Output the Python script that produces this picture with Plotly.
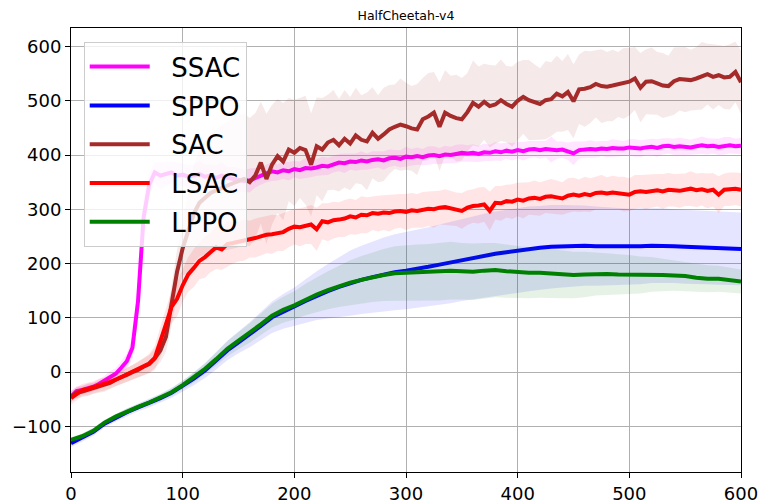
import numpy as np
import plotly.graph_objects as go

# ---------------- data ----------------
x_fast = list(range(0, 601, 5))    # SAC-type runs
x_slow = list(range(0, 601, 10))   # PPO-type runs

ssac_mean = [
    -45, -35, -33, -30, -27, -22, -15, -8, -3, 8,
    20, 45, 130, 285, 345, 368, 362, 365, 368, 362,
    364, 360, 362, 365, 360, 362, 358, 362, 358, 356,
    355, 352, 353, 358, 362, 366, 370, 368, 372, 370,
    374, 372, 376, 375, 377, 380, 379, 383, 386, 385,
    388, 387, 390, 388, 391, 392, 390, 394, 395, 393,
    397, 396, 398, 396, 399, 400, 398, 401, 400, 402,
    404, 403, 404, 402, 405, 404, 407, 405, 408, 406,
    409, 407, 410, 411, 409, 411, 410, 409, 410, 407,
    403, 409, 410, 411, 410, 412, 411, 413, 412, 412,
    414, 413, 412, 414, 415, 413, 416, 417, 415, 416,
    415, 414, 416, 418, 416, 417, 415, 417, 418, 416,
    417]
ssac_std = [
    10, 9, 8, 9, 8, 9, 8, 10, 10, 12,
    14, 20, 35, 35, 22, 18, 25, 22, 20, 24,
    20, 22, 20, 24, 22, 20, 22, 24, 20, 22,
    21, 20, 22, 18, 17, 16, 18, 15, 16, 17,
    15, 16, 18, 16, 15, 17, 16, 15, 16, 18,
    15, 16, 17, 15, 16, 15, 17, 16, 15, 16,
    18, 15, 16, 15, 17, 16, 15, 16, 15, 17,
    16, 15, 16, 15, 16, 15, 17, 16, 15, 16,
    15, 17, 16, 15, 16, 15, 24, 16, 15, 16,
    22, 16, 15, 16, 15, 14, 15, 16, 15, 14,
    15, 16, 15, 14, 15, 16, 15, 14, 15, 16,
    15, 14, 15, 16, 15, 14, 15, 16, 15, 14,
    15]

sac_mean = [
    -45, -38, -36, -33, -30, -27, -24, -20, -14, -10,
    -5, 0, 4, 10, 15, 25, 40, 65, 120, 185,
    228, 258, 292, 312, 322, 330, 335, 340, 343, 348,
    352, 356, 350, 362, 386, 356, 382, 398, 388, 410,
    404, 413, 409, 382, 416, 410, 423, 428, 418, 430,
    421, 436, 428, 425, 441, 430, 438, 447, 452, 456,
    453, 449, 447, 466, 471, 478, 452, 478, 472, 468,
    466, 479, 496, 489, 498, 490, 493, 501, 494, 489,
    500, 507, 501, 497, 494, 501, 503, 513, 508, 516,
    499, 521, 522, 525, 531, 527, 526, 528, 530, 532,
    535, 541, 524, 535, 536, 532, 528, 527, 536, 540,
    539, 538, 541, 546, 549, 544, 547, 543, 544, 553,
    534]
sac_std = [
    10, 10, 10, 11, 10, 11, 12, 11, 12, 12,
    12, 13, 14, 15, 16, 18, 22, 28, 35, 40,
    50, 75, 90, 100, 105, 110, 112, 115, 118, 120,
    122, 120, 118, 115, 112, 120, 110, 105, 108, 95,
    98, 92, 100, 95, 90, 95, 88, 92, 85, 90,
    86, 88, 82, 90, 84, 80, 86, 82, 78, 85,
    80, 78, 84, 76, 80, 75, 82, 78, 74, 80,
    76, 72, 78, 74, 70, 76, 72, 75, 70, 74,
    72, 68, 74, 70, 66, 72, 68, 70, 65, 70,
    68, 64, 70, 66, 62, 68, 64, 66, 60, 65,
    62, 58, 64, 60, 62, 58, 60, 56, 62, 58,
    60, 56, 58, 62, 56, 60, 55, 58, 60, 56,
    58]

lsac_mean = [
    -48, -40, -33, -31, -28, -24, -22, -18, -14, -9,
    -5, -1, 5, 10, 16, 26, 55, 88, 120, 135,
    160, 180, 192, 205, 212, 220, 230, 226, 236, 238,
    240, 243, 245, 247, 250, 253, 254, 256, 258, 264,
    268, 267, 270, 272, 263, 278, 276, 280, 281, 283,
    287, 285, 290, 289, 293, 292, 294, 293, 296, 297,
    295, 298, 297, 299, 301, 300, 303, 304, 302, 300,
    297, 303, 306, 307, 309, 297, 312, 311, 315, 314,
    318, 316, 320, 321, 319, 323, 324, 322, 320, 325,
    327, 325, 328, 326, 330, 331, 329, 331, 330, 328,
    327, 332, 333, 332, 334, 335, 333, 336, 335, 334,
    336, 338, 335, 337, 334, 336, 327, 336, 337, 338,
    336]
lsac_std = [
    12, 12, 11, 12, 11, 12, 12, 13, 12, 13,
    13, 14, 15, 16, 18, 22, 28, 30, 30, 32,
    30, 32, 35, 34, 38, 36, 40, 38, 42, 38,
    36, 38, 34, 36, 35, 34, 36, 33, 35, 34,
    33, 35, 34, 36, 40, 33, 35, 34, 32, 34,
    33, 32, 34, 33, 31, 33, 32, 34, 32, 31,
    33, 32, 31, 33, 32, 34, 31, 33, 32, 31,
    33, 32, 31, 33, 32, 36, 31, 32, 30, 32,
    31, 33, 30, 32, 31, 30, 32, 31, 30, 32,
    31, 30, 32, 31, 30, 32, 30, 31, 30, 32,
    30, 31, 30, 32, 31, 30, 32, 31, 30, 31,
    30, 32, 31, 30, 32, 31, 34, 30, 31, 30,
    31]

sppo_mean = [
    -131, -121, -110, -95, -84, -74, -65, -57, -48, -38,
    -26, -12, 3, 21, 40, 55, 69, 85, 101, 112,
    121, 131, 141, 149, 157, 164, 170, 175, 180, 184,
    187, 190, 194, 198, 202, 207, 211, 215, 218, 221,
    224, 227, 229, 231, 232, 233, 233, 232, 232, 231,
    231, 232, 233, 233, 232, 231, 230, 229, 228, 227,
    227]
sppo_std = [
    7, 7, 7, 7, 7, 7, 7, 8, 8, 9,
    10, 12, 14, 16, 18, 20, 23, 26, 29, 32,
    35, 40, 45, 50, 55, 60, 63, 66, 68, 70,
    71, 72, 73, 74, 75, 76, 77, 77, 78, 78,
    78, 78, 77, 77, 76, 75, 74, 73, 72, 71,
    70, 70, 69, 69, 68, 68, 68, 67, 67, 67,
    67]

lppo_mean = [
    -125, -118, -108, -93, -82, -72, -64, -56, -47, -37,
    -24, -10, 6, 24, 43, 58, 72, 88, 104, 115,
    123, 134, 143, 151, 158, 165, 170, 175, 179, 182,
    183, 183, 184, 185, 187, 186, 185, 187, 188, 186,
    184, 183, 183, 182, 180, 179, 180, 181, 181, 180,
    180, 179, 180, 179, 178, 177, 174, 172, 172, 170,
    167]
lppo_std = [
    5, 5, 5, 5, 5, 5, 5, 6, 6, 7,
    8, 9, 10, 12, 14, 16, 18, 20, 22, 24,
    26, 29, 32, 35, 38, 41, 44, 46, 48, 50,
    51, 52, 52, 53, 53, 52, 52, 51, 50, 49,
    48, 47, 46, 45, 44, 43, 42, 40, 38, 37,
    36, 34, 32, 30, 28, 27, 26, 25, 24, 23,
    22]

series = [
    ("SSAC", x_fast, ssac_mean, ssac_std, (255, 0, 255)),
    ("SPPO", x_slow, sppo_mean, sppo_std, (0, 0, 255)),
    ("SAC", x_fast, sac_mean, sac_std, (165, 42, 42)),
    ("LSAC", x_fast, lsac_mean, lsac_std, (255, 0, 0)),
    ("LPPO", x_slow, lppo_mean, lppo_std, (0, 128, 0)),
]

x_ticks = [0, 100, 200, 300, 400, 500, 600]
y_ticks = [-100, 0, 100, 200, 300, 400, 500, 600]

# ---------------- figure ----------------
fig = go.Figure()
for i, (name, xs, m, s, (r, g, b)) in enumerate(series):
    xs = np.asarray(xs, float)
    m = np.asarray(m, float)
    s = np.asarray(s, float)
    fig.add_trace(go.Scatter(
        x=np.concatenate([xs, xs[::-1]]),
        y=np.concatenate([m + s, (m - s)[::-1]]),
        fill="toself", fillcolor=f"rgba({r},{g},{b},0.1)",
        line=dict(width=0), mode="lines", hoverinfo="skip",
        showlegend=False, legendgroup=f"g{i}"))
    fig.add_trace(go.Scatter(
        x=xs, y=m, mode="lines", name="\u00a0\u00a0" + name,
        line=dict(color=f"rgb({r},{g},{b})", width=4),
        legendgroup=f"g{i}"))

font_family = "DejaVu Sans"
fig.update_layout(
    width=762, height=504,
    margin=dict(l=71, r=21, t=28, b=32, autoexpand=False),
    paper_bgcolor="white", plot_bgcolor="white",
    font=dict(family=font_family, color="black"),
    title=dict(text="HalfCheetah-v4", x=0.5328, xanchor="center",
               y=1 - 16 / 504, yanchor="middle", yref="container",
               font=dict(size=12.5, family=font_family, color="black")),
    legend=dict(x=0.019, y=0.968, xanchor="left", yanchor="top",
                bgcolor="rgba(255,255,255,0.8)", bordercolor="#cccccc",
                borderwidth=1, font=dict(size=26, family=font_family),
                itemwidth=60, tracegroupgap=2),
    showlegend=True,
)
axis_style = dict(showgrid=True, gridcolor="#b0b0b0", gridwidth=1,
                  zeroline=False, showline=True, linecolor="black",
                  linewidth=1, mirror=True, ticks="outside", ticklen=5,
                  tickcolor="black", automargin=False,
                  tickfont=dict(size=18, family=font_family))
fig.update_xaxes(range=[0, 600], tickvals=x_ticks, **axis_style)
fig.update_yaxes(range=[-184, 634], tickvals=y_ticks, **axis_style)

fig.write_html("out.html")
